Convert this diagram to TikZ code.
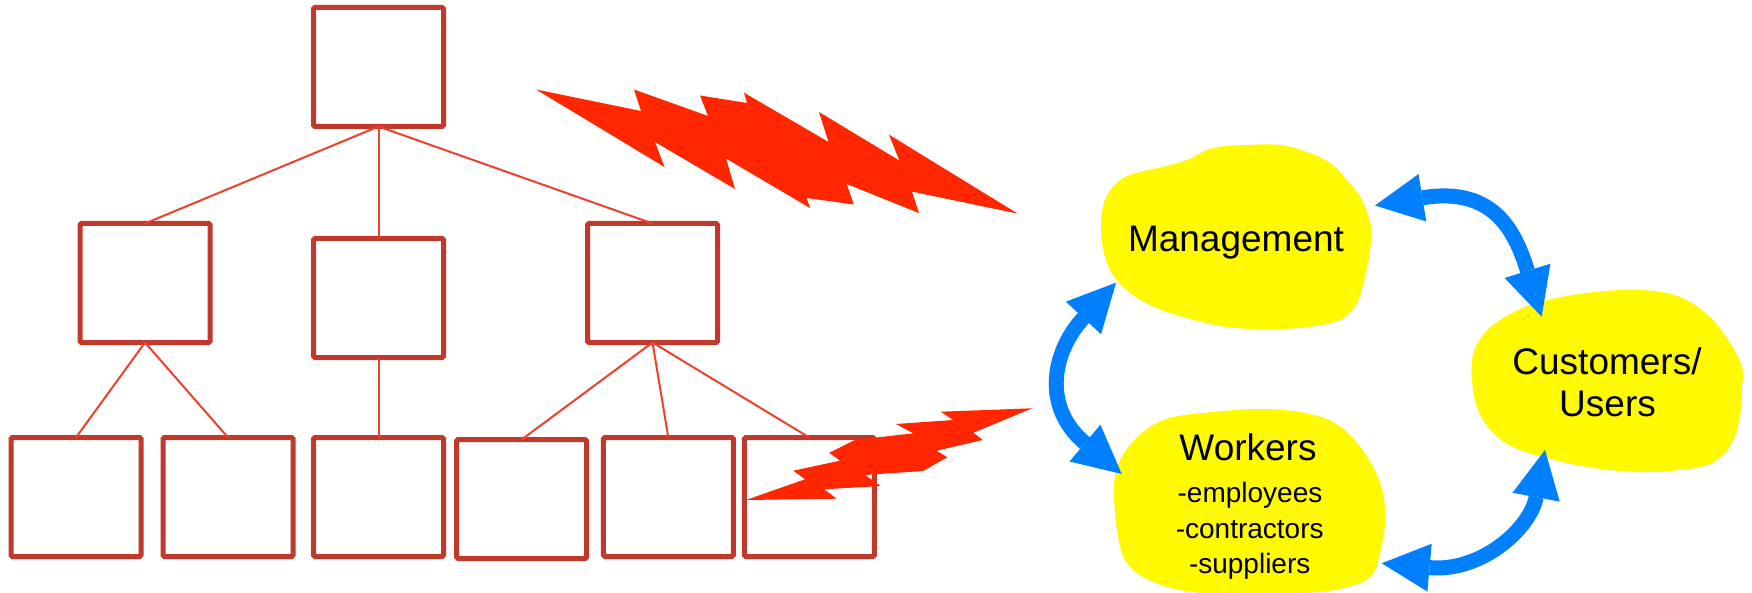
\documentclass[tikz,border=0pt]{standalone}
\usepackage{fontspec}
\setmainfont{Liberation Sans}
\usetikzlibrary{arrows.meta}
\definecolor{boxred}{RGB}{192,57,43}
\definecolor{linered}{RGB}{238,64,44}
\definecolor{boltred}{RGB}{255,38,0}
\definecolor{blobyellow}{RGB}{255,250,0}
\definecolor{arrowblue}{RGB}{0,128,255}
\begin{document}
\begin{tikzpicture}[x=1pt,y=-1pt,
  orgbox/.style={draw=boxred, line width=5pt, minimum width=130pt, minimum height=119pt, inner sep=0pt, outer sep=0pt, rounded corners=1.5pt},
  orglink/.style={draw=linered, line width=2pt},
  boltshape/.style={fill=boltred},
  blob/.style={fill=blobyellow},
  flow/.style={draw=arrowblue, line width=15pt, {Triangle[length=48pt,width=48pt,line width=0pt]}-{Triangle[length=48pt,width=48pt,line width=0pt]}},
  bigtext/.style={font=\fontsize{37}{42.7}\selectfont, anchor=base, inner sep=0pt},
  smalltext/.style={font=\fontsize{28}{35}\selectfont, anchor=base, inner sep=0pt}]
\useasboundingbox (0,0) rectangle (1752,593);

% organisation chart
\node[orgbox] (t)  at (378.5,67) {};
\node[orgbox] (m1) at (145,283) {};
\node[orgbox] (m2) at (378.5,298) {};
\node[orgbox] (m3) at (652.5,283) {};
\node[orgbox] (b1) at (76,497) {};
\node[orgbox] (b2) at (228,497) {};
\node[orgbox] (b3) at (378.5,497) {};
\node[orgbox] (b4) at (521.7,499) {};
\node[orgbox] (b5) at (668.3,497) {};
\node[orgbox] (b6) at (809.3,497) {};
\draw[orglink] (t.south) -- (m1.north);
\draw[orglink] (t.south) -- (m2.north);
\draw[orglink] (t.south) -- (m3.north);
\draw[orglink] (m1.south) -- (b1.north);
\draw[orglink] (m1.south) -- (b2.north);
\draw[orglink] (m2.south) -- (b3.north);
\draw[orglink] (m3.south) -- (b4.north);
\draw[orglink] (m3.south) -- (b5.north);
\draw[orglink] (m3.south) -- (b6.north);

% lightning bolts
\fill[boltshape] (536,89.5) -- (641,111) -- (634,89.5) -- (708,116) -- (700,95.5) -- (747,103) -- (744,92.7) -- (828.5,142) -- (819,112) -- (899.4,160.6) -- (889,134.7) -- (1017.6,213.6) -- (912,191.6) -- (919,213) -- (846.7,184) -- (853.8,204.5) -- (806.6,198) -- (810,208) -- (726,158.5) -- (735,189) -- (655,142) -- (664.5,167) -- cycle;
\fill[boltshape] (746,500) -- (805,479.3) -- (793.3,470.7) -- (840,460.7) -- (829.3,452.7) -- (855,440) -- (913.3,433.3) -- (896,424) -- (953.3,420) -- (940.7,411.7) -- (1032.3,408.3) -- (973.3,432.7) -- (982.7,440) -- (936.7,450.7) -- (947.3,457.3) -- (923,471) -- (865,475) -- (880.7,486) -- (824,489.3) -- (836.7,498.7) -- cycle;

% blobs
\fill[blob] plot[smooth cycle, tension=0.6] coordinates {(1163,167) (1187,160) (1213,148) (1247,145) (1280,145) (1307,152) (1330,163) (1347,180) (1362,200) (1371,227) (1370,250) (1365,277) (1357,303) (1340,320) (1307,327) (1273,329) (1227,327) (1183,317) (1150,305) (1123,287) (1107,263) (1101,230) (1105,200) (1120,180) (1140,172)};
\fill[blob] plot[smooth cycle, tension=0.6] coordinates {(1130,445) (1150,427) (1173,417) (1213,412) (1257,409) (1300,412) (1333,422) (1357,443) (1373,467) (1383,493) (1385,523) (1380,553) (1370,577) (1340,589) (1290,594) (1230,595) (1180,590) (1145,578) (1125,560) (1117,530) (1114,490) (1118,465)};
\fill[blob] plot[smooth cycle, tension=0.6] coordinates {(1500,320) (1530,305) (1567,296) (1605,291) (1643,290) (1680,297) (1710,317) (1730,343) (1742,367) (1742,390) (1740,415) (1732,443) (1712,463) (1680,470) (1640,472) (1593,468) (1555,460) (1520,450) (1495,435) (1478,410) (1472,380) (1473,355) (1483,335)};

% texts
\node[bigtext] (mgmt) at (1236,251.7) {Management};
\node[bigtext] (wk) at (1248,460) {Workers};
\node[smalltext] (wk1) at (1250,502.7) {-employees};
\node[smalltext] (wk2) at (1249.7,538.3) {-contractors};
\node[smalltext] (wk3) at (1249.7,573.3) {-suppliers};
\node[bigtext] (cu1) at (1607,374) {Customers/};
\node[bigtext] (cu2) at (1607.5,416.7) {Users};

% arrows
\coordinate (aM1) at (1116,282.7);
\coordinate (aW1) at (1121.7,474);
\coordinate (aM2) at (1375,205.5);
\coordinate (aC1) at (1541.7,316.7);
\coordinate (aC2) at (1545,450);
\coordinate (aW2) at (1381.7,563.3);
\draw[flow] (aM1) .. controls (1052,352) and (1042,407) .. (aW1);
\draw[flow] (aM2) .. controls (1493.4,186.2) and (1515,230.8) .. (aC1);
\draw[flow] (aW2) .. controls (1481.3,572.3) and (1530.2,528.6) .. (aC2);
\end{tikzpicture}
\end{document}
